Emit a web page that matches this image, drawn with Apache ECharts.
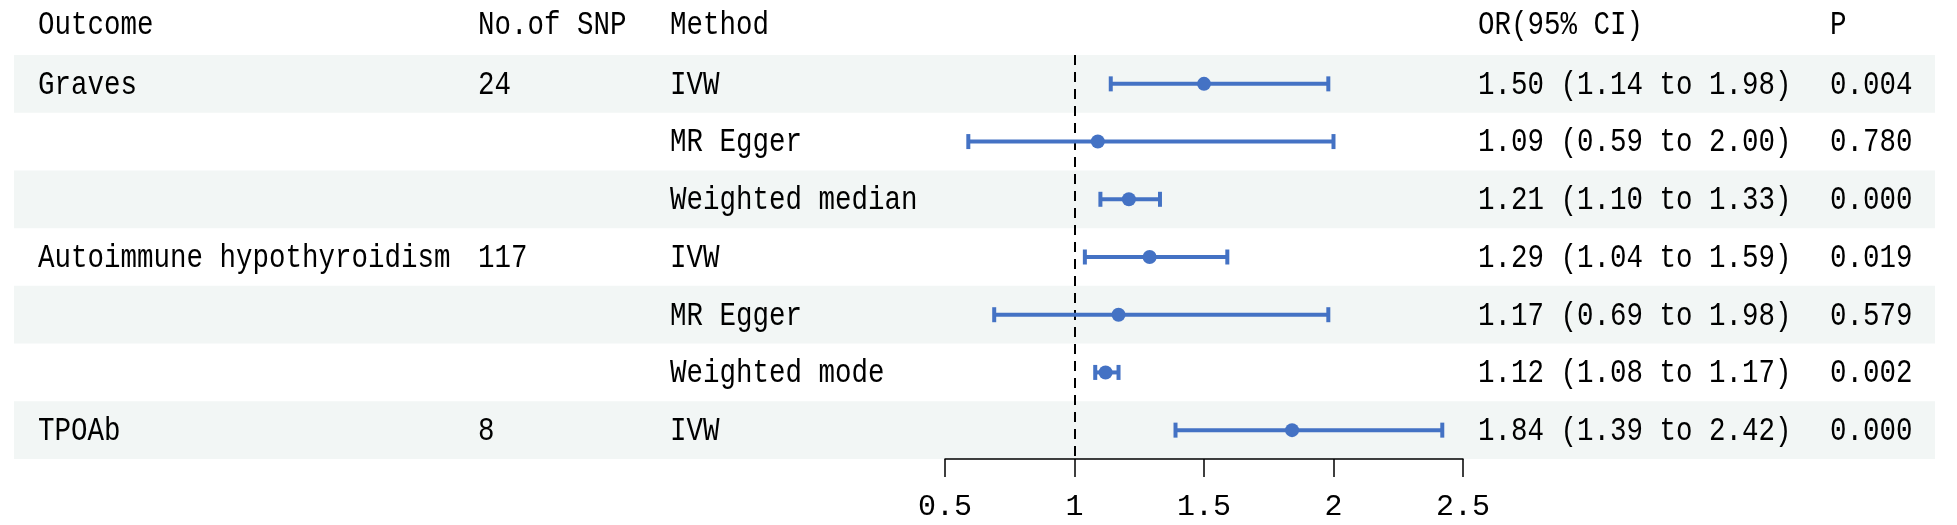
<!DOCTYPE html>
<html>
<head>
<meta charset="utf-8">
<script src="https://cdn.jsdelivr.net/npm/echarts@6/dist/echarts.min.js"></script>
<style>html,body{margin:0;padding:0;background:#fff;}#c{width:1957px;height:525px;}</style>
</head>
<body>
<div id="c"></div>
<script>
const headers = ['Outcome', 'No.of SNP', 'Method', 'OR(95% CI)', 'P'];
const outcomes = ['Graves', '', '', 'Autoimmune hypothyroidism', '', '', 'TPOAb'];
const snps = ['24', '', '', '117', '', '', '8'];
const methods = ['IVW', 'MR Egger', 'Weighted median', 'IVW', 'MR Egger', 'Weighted mode', 'IVW'];
const orVals = [1.50, 1.09, 1.21, 1.29, 1.17, 1.12, 1.84];
const ciLow = [1.14, 0.59, 1.10, 1.04, 0.69, 1.08, 1.39];
const ciHigh = [1.98, 2.00, 1.33, 1.59, 1.98, 1.17, 2.42];
const pVals = ['0.004', '0.780', '0.000', '0.019', '0.579', '0.002', '0.000'];
const stripeRows = [0, 2, 4, 6];
const xMin = 0.5, xMax = 2.5, xStep = 0.5, refLine = 1;

const FONT = '"Liberation Mono", monospace';
const FS = 27.5;
const SY = 1.22;
const BLUE = '#4472c4';
const colX = [38, 478, 670, 1478, 1830];
const rowCats = methods.map((_, i) => String(i));
const orText = orVals.map((v, i) => v.toFixed(2) + ' (' + ciLow[i].toFixed(2) + ' to ' + ciHigh[i].toFixed(2) + ')');

const chart = echarts.init(document.getElementById('c'));
const GT = 55, GH = 404;
chart.setOption({
  animation: false,
  backgroundColor: '#fff',
  grid: [
    { left: 14, right: 22, top: GT, height: GH },
    { left: 945, right: 494, top: GT, height: GH }
  ],
  xAxis: [
    { gridIndex: 0, type: 'value', min: 0, max: 1, show: false },
    { gridIndex: 1, type: 'value', min: xMin, max: xMax, interval: xStep,
      splitLine: { show: false },
      axisLine: { show: true, onZero: false, lineStyle: { color: '#000', width: 1.5 } },
      axisTick: { show: true, length: 18, lineStyle: { color: '#000', width: 1.5 } },
      axisLabel: { color: '#000', fontFamily: FONT, fontSize: 30, margin: 33 } }
  ],
  yAxis: [
    { gridIndex: 0, type: 'category', data: rowCats, inverse: true, show: false },
    { gridIndex: 1, type: 'category', data: rowCats, inverse: true, show: false }
  ],
  graphic: headers.map((h, i) => ({
    type: 'text', x: colX[i], y: 25, scaleY: SY,
    style: { text: h, font: FS + 'px ' + FONT, fill: '#000', verticalAlign: 'middle', align: 'left' }
  })),
  series: [
    {
      type: 'custom', xAxisIndex: 0, yAxisIndex: 0, silent: true, z: 0,
      data: stripeRows.map(r => [r]),
      renderItem: function (params, api) {
        const c = api.coord([0, api.value(0)]);
        const h = api.size([0, 1])[1];
        const cs = params.coordSys;
        return { type: 'rect', shape: { x: cs.x, y: c[1] - h / 2, width: cs.width, height: h },
                 style: { fill: '#f2f6f5' } };
      }
    },
    {
      type: 'custom', xAxisIndex: 0, yAxisIndex: 0, silent: true, z: 5,
      data: methods.map((m, i) => [i]),
      renderItem: function (params, api) {
        const i = api.value(0);
        const y = api.coord([0, i])[1];
        const cols = [outcomes[i], snps[i], methods[i], orText[i], pVals[i]];
        return { type: 'group', children: cols.map((t, k) => ({
          type: 'text', x: colX[k], y: y + 1, scaleY: SY,
          style: { text: t, font: FS + 'px ' + FONT, fill: '#000', verticalAlign: 'middle', align: 'left' }
        })) };
      }
    },
    {
      type: 'custom', xAxisIndex: 1, yAxisIndex: 1, silent: true, z: 6,
      data: methods.map((m, i) => [i, ciLow[i], ciHigh[i]]),
      renderItem: function (params, api) {
        const i = api.value(0);
        const a = api.coord([api.value(1), i]);
        const b = api.coord([api.value(2), i]);
        const ch = 7.5;
        const st = { stroke: BLUE, lineWidth: 4 };
        return { type: 'group', children: [
          { type: 'line', shape: { x1: a[0], y1: a[1], x2: b[0], y2: b[1] }, style: st },
          { type: 'line', shape: { x1: a[0], y1: a[1] - ch, x2: a[0], y2: a[1] + ch }, style: st },
          { type: 'line', shape: { x1: b[0], y1: b[1] - ch, x2: b[0], y2: b[1] + ch }, style: st }
        ] };
      }
    },
    {
      type: 'scatter', xAxisIndex: 1, yAxisIndex: 1, z: 7, silent: true,
      symbol: 'circle', symbolSize: 14,
      itemStyle: { color: BLUE, opacity: 1 },
      data: orVals.map((v, i) => [v, i]),
      markLine: {
        silent: true, symbol: 'none', label: { show: false },
        lineStyle: { color: '#000', type: [10, 7], width: 2 },
        data: [{ xAxis: refLine }]
      }
    }
  ]
});
</script>
</body>
</html>
